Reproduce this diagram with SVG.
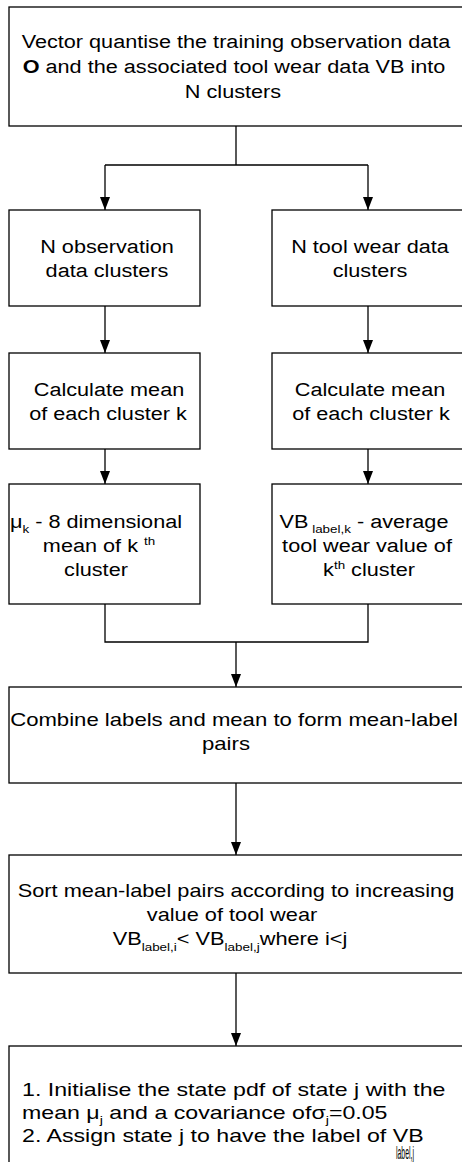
<svg xmlns="http://www.w3.org/2000/svg" width="462" height="1162" viewBox="0 0 462 1162">
<style>
.box{fill:#fff;stroke:#000;stroke-width:1.3}
.ln{fill:none;stroke:#000;stroke-width:1.3}
.t{font-family:"Liberation Sans",Arial,Helvetica,sans-serif;font-size:18.6px;fill:#000}
.m{text-anchor:middle}
.sub{font-size:11.5px}
</style>
<defs>
<marker id="ah" viewBox="0 0 13 10" refX="13" refY="5" markerWidth="13" markerHeight="10" markerUnits="userSpaceOnUse" orient="auto">
<path d="M0,0 L13,5 L0,10 z" fill="#000"/>
</marker>
</defs>
<rect width="462" height="1162" fill="#fff"/>

<g id="connectors">
<path class="ln" d="M236,126 V165 M105,165 H368"/>
<path class="ln" d="M105,165 V210" marker-end="url(#ah)"/>
<path class="ln" d="M368,165 V210" marker-end="url(#ah)"/>
<path class="ln" d="M105,306 V353" marker-end="url(#ah)"/>
<path class="ln" d="M368,306 V353" marker-end="url(#ah)"/>
<path class="ln" d="M105,449 V484" marker-end="url(#ah)"/>
<path class="ln" d="M368,449 V484" marker-end="url(#ah)"/>
<path class="ln" d="M105,604 V642 H368 V604"/>
<path class="ln" d="M236,642 V687" marker-end="url(#ah)"/>
<path class="ln" d="M236,783 V855" marker-end="url(#ah)"/>
<path class="ln" d="M236,973 V1046" marker-end="url(#ah)"/>
</g>

<g id="n-vq">
<rect class="box" x="9" y="7" width="454" height="119"/>
<text class="t m" transform="translate(236,48) scale(1.165,1)">Vector quantise the training observation data</text>
<text class="t m" transform="translate(234,73) scale(1.165,1)"><tspan font-weight="bold">O</tspan> and the associated tool wear data VB into</text>
<text class="t m" transform="translate(233,98) scale(1.165,1)">N clusters</text>
</g>

<g id="n-obs">
<rect class="box" x="9" y="210" width="191" height="96"/>
<text class="t m" transform="translate(107,253) scale(1.165,1)">N observation</text>
<text class="t m" transform="translate(107,277) scale(1.165,1)">data clusters</text>
</g>

<g id="n-wear">
<rect class="box" x="272" y="210" width="191" height="96"/>
<text class="t m" transform="translate(370,253) scale(1.165,1)">N tool wear data</text>
<text class="t m" transform="translate(370,277) scale(1.165,1)">clusters</text>
</g>

<g id="n-mean-l">
<rect class="box" x="9" y="353" width="191" height="96"/>
<text class="t m" transform="translate(109,396) scale(1.165,1)">Calculate mean</text>
<text class="t m" transform="translate(108,420) scale(1.165,1)">of each cluster k</text>
</g>

<g id="n-mean-r">
<rect class="box" x="272" y="353" width="191" height="96"/>
<text class="t m" transform="translate(370,396) scale(1.165,1)">Calculate mean</text>
<text class="t m" transform="translate(371,420) scale(1.165,1)">of each cluster k</text>
</g>

<g id="n-mu">
<rect class="box" x="9" y="484" width="191" height="120"/>
<text class="t m" transform="translate(96,528) scale(1.165,1)">μ<tspan class="sub" dy="5">k</tspan><tspan dy="-5"> - 8 dimensional</tspan></text>
<text class="t m" transform="translate(99,552) scale(1.165,1)">mean of k <tspan class="sub" dy="-7">th</tspan></text>
<text class="t m" transform="translate(96,576) scale(1.165,1)">cluster</text>
</g>

<g id="n-vb">
<rect class="box" x="272" y="484" width="191" height="120"/>
<text class="t m" transform="translate(364,528) scale(1.165,1)">VB<tspan class="sub" dy="5"> label,k</tspan><tspan dy="-5"> - average</tspan></text>
<text class="t m" transform="translate(367,552) scale(1.165,1)">tool wear value of</text>
<text class="t m" transform="translate(369,576) scale(1.165,1)">k<tspan class="sub" dy="-7">th</tspan><tspan dy="7"> cluster</tspan></text>
</g>

<g id="n-combine">
<rect class="box" x="9" y="687" width="454" height="96"/>
<text class="t m" transform="translate(234,726) scale(1.19,1)">Combine labels and mean to form mean-label</text>
<text class="t m" transform="translate(226,750) scale(1.19,1)">pairs</text>
</g>

<g id="n-sort">
<rect class="box" x="9" y="855" width="454" height="118"/>
<text class="t m" transform="translate(236,897) scale(1.17,1)">Sort mean-label pairs according to increasing</text>
<text class="t m" transform="translate(232,921) scale(1.17,1)">value of tool wear</text>
<text class="t m" transform="translate(230,945) scale(1.17,1)">VB<tspan class="sub" dy="6">label,i</tspan><tspan dy="-6">&lt; VB</tspan><tspan class="sub" dy="6">label,j</tspan><tspan dy="-6">where i&lt;j</tspan></text>
</g>

<g id="n-init">
<rect class="box" x="9" y="1046" width="454" height="130"/>
<text class="t" transform="translate(22,1096) scale(1.245,1)">1. Initialise the state pdf of state j with the</text>
<text class="t" transform="translate(22,1119) scale(1.245,1)">mean <tspan>μ</tspan><tspan class="sub" dy="5">j</tspan><tspan dy="-5">  and a covariance of</tspan><tspan>σ</tspan><tspan class="sub" dy="5">j</tspan><tspan dy="-5">=0.05</tspan></text>
<text class="t" transform="translate(22,1142) scale(1.245,1)">2. Assign state j to have the label of VB</text>
<text class="t" x="396" y="1159" font-size="9.5" textLength="18" lengthAdjust="spacingAndGlyphs">label,j</text>
</g>
</svg>
